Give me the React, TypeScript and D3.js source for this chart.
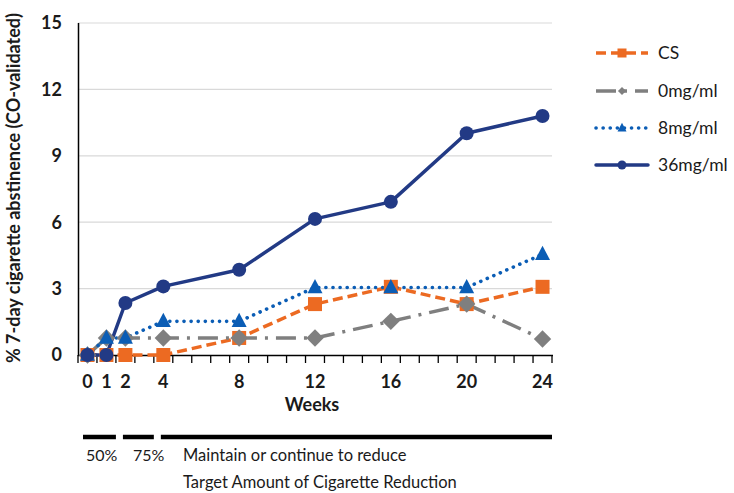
import React from "react";
import * as d3 from "d3";

const weeks = [0, 1, 2, 4, 8, 12, 16, 20, 24];
const seriesNames = ["CS", "0mg/ml", "8mg/ml", "36mg/ml"];
const csValues = [0, 0, 0, 0, 0.77, 2.3, 3.08, 2.3, 3.08];
const zeroValues = [0, 0.77, 0.77, 0.77, 0.77, 0.77, 1.52, 2.3, 0.72];
const eightValues = [0, 0.77, 0.77, 1.52, 1.52, 3.05, 3.05, 3.05, 4.55];
const thirtySixValues = [0, 0, 2.35, 3.1, 3.85, 6.15, 6.92, 10.02, 10.8];
const yTicks = [0, 3, 6, 9, 12, 15];
const phaseLabels = ["50%", "75%", "Maintain or continue to reduce"];
const phaseWeeks = [[0, 1], [2, 3], [4, 24]];

const W = 734;
const H = 493;
const FONT = "Lato, 'Open Sans', sans-serif";

const styles = [
  { color: "#EC6A22", dash: "10 5", cap: "butt", width: 3.5, marker: "square", size: 14 },
  { color: "#7F7F7F", dash: "20 8 3 8", cap: "butt", width: 3.5, marker: "diamond", size: 15 },
  { color: "#0B5DB5", dash: "0.1 7", cap: "round", width: 3.6, marker: "triangle", size: 15 },
  { color: "#223A85", dash: "", cap: "round", width: 3.5, marker: "circle", size: 14 },
];

function Marker({ type, x, y, s, color }: { type: string; x: number; y: number; s: number; color: string }) {
  if (type === "square") return <rect x={x - s / 2} y={y - s / 2} width={s} height={s} fill={color} />;
  if (type === "diamond") {
    const r = s * 0.58;
    return <path d={`M${x},${y - r}L${x + r},${y}L${x},${y + r}L${x - r},${y}Z`} fill={color} />;
  }
  if (type === "triangle") {
    const h = s * 0.95;
    return <path d={`M${x},${y - h * 0.6}L${x + s / 2},${y + h * 0.4}L${x - s / 2},${y + h * 0.4}Z`} fill={color} />;
  }
  return <circle cx={x} cy={y} r={s / 2} fill={color} />;
}

export default function App() {
  const all = [csValues, zeroValues, eightValues, thirtySixValues];
  const band = d3.scaleBand<number>().domain(d3.range(0, 25)).range([78, 552]).padding(0);
  const xc = (w: number) => (band(w) as number) + band.bandwidth() / 2;
  const y = d3.scaleLinear().domain([0, 15]).range([355, 23]);
  const line = d3.line<number>().x((_, i) => xc(weeks[i])).y((v) => y(v));
  const boundaries = d3.range(0, 26).map((i) => 78 + i * band.bandwidth());

  return (
    <svg width={W} height={H} style={{ display: "block", position: "absolute", left: 0, top: 0 }} fontFamily={FONT}>
      <rect width={W} height={H} fill="#fff" />
      {yTicks.filter((t) => t > 0).map((t) => (
        <line key={t} x1={78} x2={552} y1={y(t)} y2={y(t)} stroke="#d9d9d9" strokeWidth={1.2} />
      ))}
      {yTicks.map((t) => (
        <text key={t} x={62} y={y(t)} dy="0.36em" textAnchor="end" fontSize={18} fontWeight="bold" fill="#1a1a1a">{t}</text>
      ))}
      <line x1={78.5} x2={78.5} y1={y(15)} y2={356} stroke="#000" strokeWidth={1.5} />
      <line x1={78} x2={553} y1={355.5} y2={355.5} stroke="#000" strokeWidth={1.5} />
      {boundaries.map((b, i) => (
        <line key={i} x1={b} x2={b} y1={355} y2={363} stroke="#000" strokeWidth={1.3} />
      ))}
      {weeks.map((w) => (
        <text key={w} x={xc(w)} y={382} dy="0.36em" textAnchor="middle" fontSize={18} fontWeight="bold" fill="#1a1a1a">{w}</text>
      ))}
      <text x={312} y={405} dy="0.36em" textAnchor="middle" fontSize={18} fontWeight="bold" fill="#1a1a1a">Weeks</text>
      <text transform={`translate(14,188) rotate(-90)`} dy="0.36em" textAnchor="middle" fontSize={18} fontWeight="bold" fill="#1a1a1a">% 7-day cigarette abstinence  (CO-validated)</text>

      {all.map((vals, si) => {
        const st = styles[si];
        return (
          <g key={si}>
            <path d={line(vals) as string} fill="none" stroke={st.color} strokeWidth={st.width}
              strokeDasharray={st.dash || undefined} strokeLinecap={st.cap as any} strokeLinejoin="round" />
          </g>
        );
      })}
      {all.map((vals, si) => (
        <g key={si}>
          {vals.map((v, i) => (
            <Marker key={i} type={styles[si].marker} x={xc(weeks[i])} y={y(v)} s={styles[si].size} color={styles[si].color} />
          ))}
        </g>
      ))}

      {seriesNames.map((n, i) => {
        const ly = [53, 91, 128, 165][i];
        const st = styles[i];
        return (
          <g key={n}>
            <line x1={596} x2={648} y1={ly} y2={ly} stroke={st.color} strokeWidth={st.width}
              strokeDasharray={st.dash || undefined} strokeLinecap={st.cap as any} />
            <Marker type={st.marker} x={622} y={ly} s={i === 1 ? 7 : 9} color={st.color} />
            <text x={658} y={ly} dy="0.36em" fontSize={17.5} fill="#1a1a1a">{n}</text>
          </g>
        );
      })}

      {phaseWeeks.map((pw, i) => {
        const x1 = (band(pw[0]) as number) + 5;
        const x2 = (band(pw[1]) as number) + band.bandwidth() + 1;
        return <line key={i} x1={x1 + (i === 0 ? 0 : 2)} x2={x2 - 1} y1={437} y2={437} stroke="#000" strokeWidth={4.5} />;
      })}
      <text x={86} y={455} dy="0.36em" fontSize={16} fill="#1a1a1a">{phaseLabels[0]}</text>
      <text x={133} y={455} dy="0.36em" fontSize={16} fill="#1a1a1a">{phaseLabels[1]}</text>
      <text x={183} y={455} dy="0.36em" fontSize={16.5} fill="#1a1a1a">{phaseLabels[2]}</text>
      <text x={183} y={482} dy="0.36em" fontSize={16.5} fill="#1a1a1a">Target Amount of Cigarette Reduction</text>
    </svg>
  );
}
